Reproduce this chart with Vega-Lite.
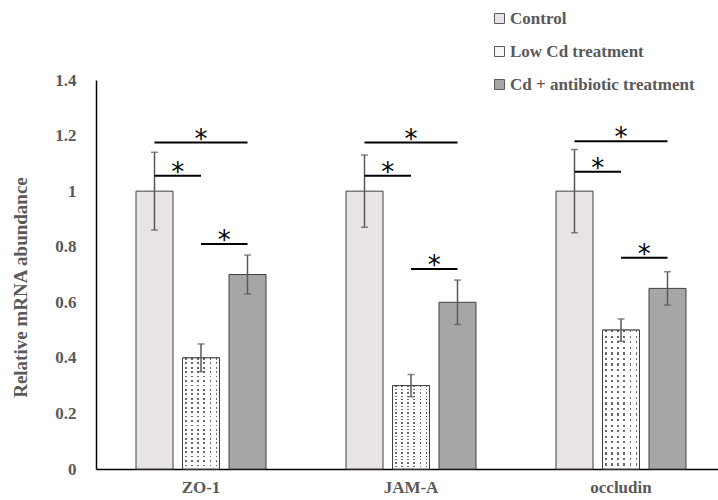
{
  "$schema": "https://vega.github.io/schema/vega-lite/v6.json",
  "width": 622,
  "height": 389,
  "autosize": {"type": "none"},
  "padding": {"left": 96, "top": 80, "right": 0, "bottom": 31},
  "background": "white",
  "config": {
    "view": {"stroke": null},
    "font": "Liberation Serif",
    "axis": {
      "domainColor": "#000000",
      "domainWidth": 1.5,
      "ticks": false,
      "grid": false,
      "labelFont": "Liberation Serif",
      "labelFontWeight": "bold",
      "labelFontSize": 17,
      "labelColor": "#595959",
      "titleFont": "Liberation Serif",
      "titleFontWeight": "bold",
      "titleFontSize": 19,
      "titleColor": "#595959"
    }
  },
  "datasets": {
    "expression": [
      {"gene": "ZO-1", "treatment": "Control", "mean": 1.0, "lo": 0.86, "hi": 1.14},
      {"gene": "ZO-1", "treatment": "Low Cd treatment", "mean": 0.4, "lo": 0.35, "hi": 0.45},
      {"gene": "ZO-1", "treatment": "Cd + antibiotic treatment", "mean": 0.7, "lo": 0.63, "hi": 0.77},
      {"gene": "JAM-A", "treatment": "Control", "mean": 1.0, "lo": 0.87, "hi": 1.13},
      {"gene": "JAM-A", "treatment": "Low Cd treatment", "mean": 0.3, "lo": 0.26, "hi": 0.34},
      {"gene": "JAM-A", "treatment": "Cd + antibiotic treatment", "mean": 0.6, "lo": 0.52, "hi": 0.68},
      {"gene": "occludin", "treatment": "Control", "mean": 1.0, "lo": 0.85, "hi": 1.15},
      {"gene": "occludin", "treatment": "Low Cd treatment", "mean": 0.5, "lo": 0.46, "hi": 0.54},
      {"gene": "occludin", "treatment": "Cd + antibiotic treatment", "mean": 0.65, "lo": 0.59, "hi": 0.71}
    ],
    "brackets": [
      {"gene": "ZO-1", "from": "Control", "to": "Cd + antibiotic treatment", "mid": "Low Cd treatment", "y": 1.175},
      {"gene": "ZO-1", "from": "Control", "to": "Low Cd treatment", "mid": "Control | Low Cd", "y": 1.055},
      {"gene": "ZO-1", "from": "Low Cd treatment", "to": "Cd + antibiotic treatment", "mid": "Low Cd | Cd + antibiotic", "y": 0.81},
      {"gene": "JAM-A", "from": "Control", "to": "Cd + antibiotic treatment", "mid": "Low Cd treatment", "y": 1.175},
      {"gene": "JAM-A", "from": "Control", "to": "Low Cd treatment", "mid": "Control | Low Cd", "y": 1.055},
      {"gene": "JAM-A", "from": "Low Cd treatment", "to": "Cd + antibiotic treatment", "mid": "Low Cd | Cd + antibiotic", "y": 0.72},
      {"gene": "occludin", "from": "Control", "to": "Cd + antibiotic treatment", "mid": "Low Cd treatment", "y": 1.18},
      {"gene": "occludin", "from": "Control", "to": "Low Cd treatment", "mid": "Control | Low Cd", "y": 1.07},
      {"gene": "occludin", "from": "Low Cd treatment", "to": "Cd + antibiotic treatment", "mid": "Low Cd | Cd + antibiotic", "y": 0.76}
    ]
  },
  "encoding": {
    "x": {
      "field": "gene",
      "type": "nominal",
      "sort": null,
      "title": null,
      "scale": {"domain": ["ZO-1", "JAM-A", "occludin"], "range": [0, 630], "paddingInner": 0, "paddingOuter": 0},
      "axis": {"labelAngle": 0, "labelPadding": 10, "labelBaseline": "top"}
    }
  },
  "layer": [
    {
      "data": {"name": "expression"},
      "mark": {"type": "bar", "width": 37, "stroke": "#404040", "strokeWidth": 1},
      "encoding": {
        "xOffset": {
          "field": "treatment",
          "type": "nominal",
          "scale": {"domain": ["Control", "Control | Low Cd", "Low Cd treatment", "Low Cd | Cd + antibiotic", "Cd + antibiotic treatment"], "range": [46.875, 163.125], "paddingInner": 0, "paddingOuter": 0}
        },
        "y": {
          "field": "mean",
          "type": "quantitative",
          "scale": {"domain": [0, 1.4], "nice": false},
          "axis": {
            "values": [0, 0.2, 0.4, 0.6, 0.8, 1, 1.2, 1.4],
            "format": ".1~f",
            "labelPadding": 20,
            "title": "Relative mRNA abundance",
            "titleX": -76,
            "titleY": 207,
            "titleAngle": -90,
            "titleBaseline": "middle",
            "titleAlign": "center"
          }
        },
        "fill": {
          "field": "treatment",
          "type": "nominal",
          "scale": {"domain": ["Control", "Low Cd treatment", "Cd + antibiotic treatment"], "range": ["#e7e3e6", "#f6f6f6", "#a6a6a6"]},
          "legend": {
            "title": null,
            "orient": "none",
            "legendX": 395,
            "legendY": -70,
            "symbolType": "square",
            "symbolSize": 100,
            "symbolStrokeColor": "#595959",
            "symbolStrokeWidth": 1,
            "labelFont": "Liberation Serif",
            "labelFontWeight": "bold",
            "labelFontSize": 17,
            "labelColor": "#595959",
            "labelOffset": 2,
            "labelLimit": 0,
            "rowPadding": 15
          }
        }
      }
    },
    {
      "data": {"name": "expression"},
      "transform": [{"filter": "datum.treatment === 'Low Cd treatment'"}],
      "mark": {
        "type": "bar",
        "width": 37,
        "fill": {
          "gradient": "linear", "x1": 0, "y1": 0, "x2": 1, "y2": 0,
          "stops": [
            {"offset": 0, "color": "#ffffff"}, {"offset": 0.0667, "color": "#ffffff"},
            {"offset": 0.0667, "color": "#6a6a6a"}, {"offset": 0.1083, "color": "#6a6a6a"},
            {"offset": 0.1083, "color": "#ffffff"}, {"offset": 0.2333, "color": "#ffffff"},
            {"offset": 0.2333, "color": "#6a6a6a"}, {"offset": 0.275, "color": "#6a6a6a"},
            {"offset": 0.275, "color": "#ffffff"}, {"offset": 0.4, "color": "#ffffff"},
            {"offset": 0.4, "color": "#6a6a6a"}, {"offset": 0.4417, "color": "#6a6a6a"},
            {"offset": 0.4417, "color": "#ffffff"}, {"offset": 0.5667, "color": "#ffffff"},
            {"offset": 0.5667, "color": "#6a6a6a"}, {"offset": 0.6083, "color": "#6a6a6a"},
            {"offset": 0.6083, "color": "#ffffff"}, {"offset": 0.7333, "color": "#ffffff"},
            {"offset": 0.7333, "color": "#6a6a6a"}, {"offset": 0.775, "color": "#6a6a6a"},
            {"offset": 0.775, "color": "#ffffff"}, {"offset": 0.9, "color": "#ffffff"},
            {"offset": 0.9, "color": "#6a6a6a"}, {"offset": 0.9417, "color": "#6a6a6a"},
            {"offset": 0.9417, "color": "#ffffff"}, {"offset": 1, "color": "#ffffff"}
          ]
        }
      },
      "encoding": {
        "xOffset": {"field": "treatment", "type": "nominal"},
        "y": {"field": "mean", "type": "quantitative"}
      }
    },
    {
      "data": {"name": "expression"},
      "transform": [{"filter": "datum.treatment === 'Low Cd treatment'"}],
      "mark": {
        "type": "bar",
        "width": 37,
        "stroke": "#404040",
        "strokeWidth": 1,
        "fill": {
          "gradient": "linear", "x1": 0, "y1": 0, "x2": 0, "y2": 1,
          "stops": [
            {"offset": 0, "color": "rgba(255,255,255,0)"}, {"offset": 0.016, "color": "rgba(255,255,255,0)"}, {"offset": 0.016, "color": "#ffffff"}, {"offset": 0.04, "color": "#ffffff"},
            {"offset": 0.04, "color": "rgba(255,255,255,0)"}, {"offset": 0.056, "color": "rgba(255,255,255,0)"}, {"offset": 0.056, "color": "#ffffff"}, {"offset": 0.08, "color": "#ffffff"},
            {"offset": 0.08, "color": "rgba(255,255,255,0)"}, {"offset": 0.096, "color": "rgba(255,255,255,0)"}, {"offset": 0.096, "color": "#ffffff"}, {"offset": 0.12, "color": "#ffffff"},
            {"offset": 0.12, "color": "rgba(255,255,255,0)"}, {"offset": 0.136, "color": "rgba(255,255,255,0)"}, {"offset": 0.136, "color": "#ffffff"}, {"offset": 0.16, "color": "#ffffff"},
            {"offset": 0.16, "color": "rgba(255,255,255,0)"}, {"offset": 0.176, "color": "rgba(255,255,255,0)"}, {"offset": 0.176, "color": "#ffffff"}, {"offset": 0.2, "color": "#ffffff"},
            {"offset": 0.2, "color": "rgba(255,255,255,0)"}, {"offset": 0.216, "color": "rgba(255,255,255,0)"}, {"offset": 0.216, "color": "#ffffff"}, {"offset": 0.24, "color": "#ffffff"},
            {"offset": 0.24, "color": "rgba(255,255,255,0)"}, {"offset": 0.256, "color": "rgba(255,255,255,0)"}, {"offset": 0.256, "color": "#ffffff"}, {"offset": 0.28, "color": "#ffffff"},
            {"offset": 0.28, "color": "rgba(255,255,255,0)"}, {"offset": 0.296, "color": "rgba(255,255,255,0)"}, {"offset": 0.296, "color": "#ffffff"}, {"offset": 0.32, "color": "#ffffff"},
            {"offset": 0.32, "color": "rgba(255,255,255,0)"}, {"offset": 0.336, "color": "rgba(255,255,255,0)"}, {"offset": 0.336, "color": "#ffffff"}, {"offset": 0.36, "color": "#ffffff"},
            {"offset": 0.36, "color": "rgba(255,255,255,0)"}, {"offset": 0.376, "color": "rgba(255,255,255,0)"}, {"offset": 0.376, "color": "#ffffff"}, {"offset": 0.4, "color": "#ffffff"},
            {"offset": 0.4, "color": "rgba(255,255,255,0)"}, {"offset": 0.416, "color": "rgba(255,255,255,0)"}, {"offset": 0.416, "color": "#ffffff"}, {"offset": 0.44, "color": "#ffffff"},
            {"offset": 0.44, "color": "rgba(255,255,255,0)"}, {"offset": 0.456, "color": "rgba(255,255,255,0)"}, {"offset": 0.456, "color": "#ffffff"}, {"offset": 0.48, "color": "#ffffff"},
            {"offset": 0.48, "color": "rgba(255,255,255,0)"}, {"offset": 0.496, "color": "rgba(255,255,255,0)"}, {"offset": 0.496, "color": "#ffffff"}, {"offset": 0.52, "color": "#ffffff"},
            {"offset": 0.52, "color": "rgba(255,255,255,0)"}, {"offset": 0.536, "color": "rgba(255,255,255,0)"}, {"offset": 0.536, "color": "#ffffff"}, {"offset": 0.56, "color": "#ffffff"},
            {"offset": 0.56, "color": "rgba(255,255,255,0)"}, {"offset": 0.576, "color": "rgba(255,255,255,0)"}, {"offset": 0.576, "color": "#ffffff"}, {"offset": 0.6, "color": "#ffffff"},
            {"offset": 0.6, "color": "rgba(255,255,255,0)"}, {"offset": 0.616, "color": "rgba(255,255,255,0)"}, {"offset": 0.616, "color": "#ffffff"}, {"offset": 0.64, "color": "#ffffff"},
            {"offset": 0.64, "color": "rgba(255,255,255,0)"}, {"offset": 0.656, "color": "rgba(255,255,255,0)"}, {"offset": 0.656, "color": "#ffffff"}, {"offset": 0.68, "color": "#ffffff"},
            {"offset": 0.68, "color": "rgba(255,255,255,0)"}, {"offset": 0.696, "color": "rgba(255,255,255,0)"}, {"offset": 0.696, "color": "#ffffff"}, {"offset": 0.72, "color": "#ffffff"},
            {"offset": 0.72, "color": "rgba(255,255,255,0)"}, {"offset": 0.736, "color": "rgba(255,255,255,0)"}, {"offset": 0.736, "color": "#ffffff"}, {"offset": 0.76, "color": "#ffffff"},
            {"offset": 0.76, "color": "rgba(255,255,255,0)"}, {"offset": 0.776, "color": "rgba(255,255,255,0)"}, {"offset": 0.776, "color": "#ffffff"}, {"offset": 0.8, "color": "#ffffff"},
            {"offset": 0.8, "color": "rgba(255,255,255,0)"}, {"offset": 0.816, "color": "rgba(255,255,255,0)"}, {"offset": 0.816, "color": "#ffffff"}, {"offset": 0.84, "color": "#ffffff"},
            {"offset": 0.84, "color": "rgba(255,255,255,0)"}, {"offset": 0.856, "color": "rgba(255,255,255,0)"}, {"offset": 0.856, "color": "#ffffff"}, {"offset": 0.88, "color": "#ffffff"},
            {"offset": 0.88, "color": "rgba(255,255,255,0)"}, {"offset": 0.896, "color": "rgba(255,255,255,0)"}, {"offset": 0.896, "color": "#ffffff"}, {"offset": 0.92, "color": "#ffffff"},
            {"offset": 0.92, "color": "rgba(255,255,255,0)"}, {"offset": 0.936, "color": "rgba(255,255,255,0)"}, {"offset": 0.936, "color": "#ffffff"}, {"offset": 0.96, "color": "#ffffff"},
            {"offset": 0.96, "color": "rgba(255,255,255,0)"}, {"offset": 0.976, "color": "rgba(255,255,255,0)"}, {"offset": 0.976, "color": "#ffffff"}, {"offset": 1, "color": "#ffffff"}
          ]
        }
      },
      "encoding": {
        "xOffset": {"field": "treatment", "type": "nominal"},
        "y": {"field": "mean", "type": "quantitative"}
      }
    },
    {
      "data": {"name": "expression"},
      "mark": {"type": "rule", "color": "#595959", "strokeWidth": 1.5},
      "encoding": {
        "xOffset": {"field": "treatment", "type": "nominal"},
        "y": {"field": "lo", "type": "quantitative"},
        "y2": {"field": "hi"}
      }
    },
    {
      "data": {"name": "expression"},
      "mark": {"type": "tick", "color": "#595959", "thickness": 1.5, "size": 7},
      "encoding": {
        "xOffset": {"field": "treatment", "type": "nominal"},
        "y": {"field": "lo", "type": "quantitative"}
      }
    },
    {
      "data": {"name": "expression"},
      "mark": {"type": "tick", "color": "#595959", "thickness": 1.5, "size": 7},
      "encoding": {
        "xOffset": {"field": "treatment", "type": "nominal"},
        "y": {"field": "hi", "type": "quantitative"}
      }
    },
    {
      "data": {"name": "brackets"},
      "transform": [{"fold": ["from", "to"], "as": ["end", "at"]}],
      "mark": {"type": "line", "color": "#000000", "strokeWidth": 2, "strokeCap": "butt"},
      "encoding": {
        "xOffset": {"field": "at", "type": "nominal"},
        "y": {"field": "y", "type": "quantitative"},
        "detail": [{"field": "gene"}, {"field": "mid"}]
      }
    },
    {
      "data": {"name": "brackets"},
      "mark": {"type": "text", "text": "*", "font": "DejaVu Sans", "fontSize": 26, "color": "#000000", "baseline": "alphabetic", "align": "center", "dy": 5},
      "encoding": {
        "xOffset": {"field": "mid", "type": "nominal"},
        "y": {"field": "y", "type": "quantitative"}
      }
    }
  ]
}
